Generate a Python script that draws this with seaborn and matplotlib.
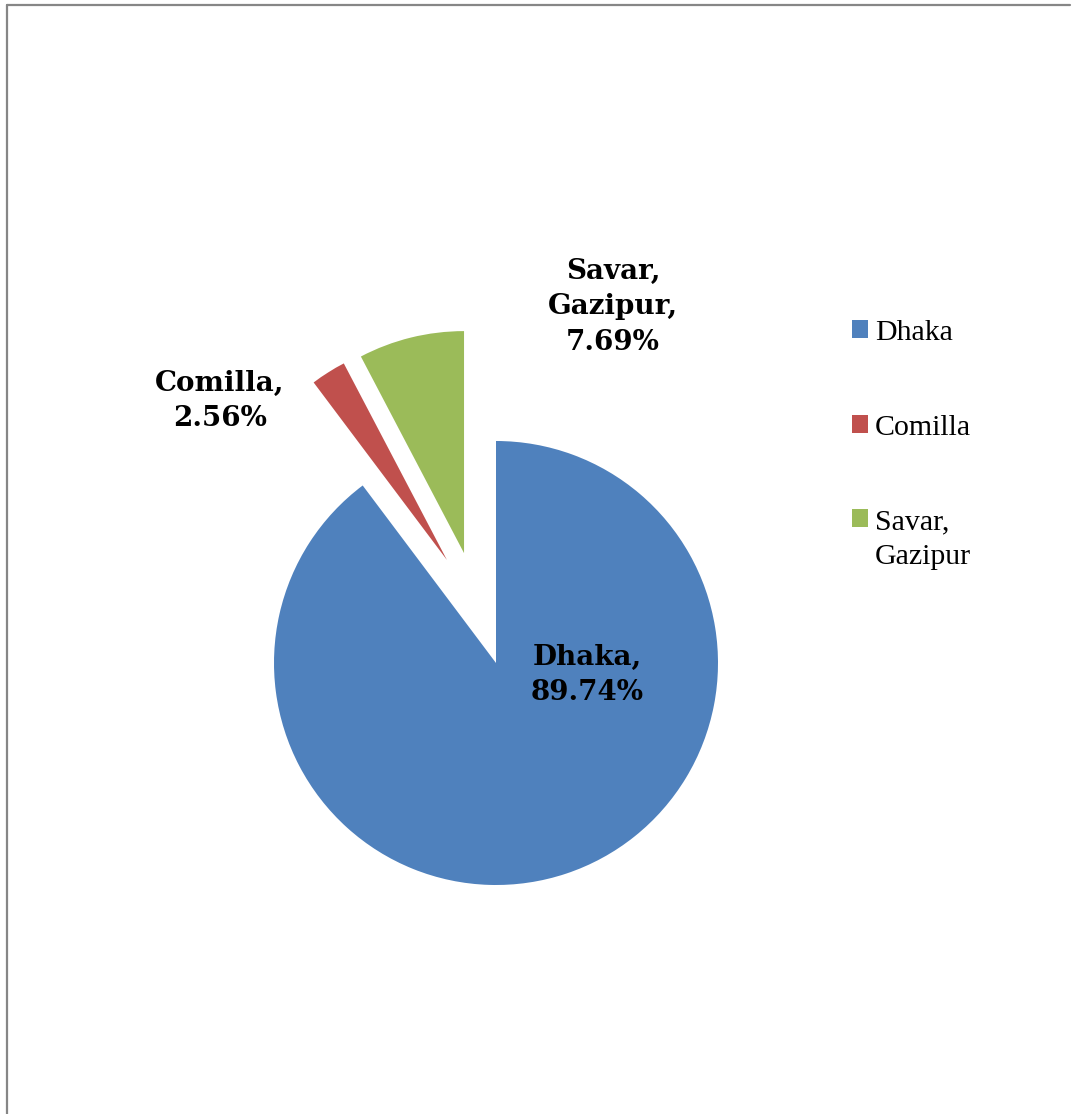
import matplotlib
matplotlib.use("Agg")
import matplotlib.pyplot as plt
from matplotlib.lines import Line2D
from matplotlib.patches import Rectangle
from matplotlib.legend_handler import HandlerPatch
import seaborn as sns

# Share of respondents by location
locations = ["Dhaka", "Comilla", "Savar, Gazipur"]
shares = [89.74, 2.56, 7.69]
legend_labels = ["Dhaka", "Comilla", "Savar,\nGazipur"]
slice_labels = ["Dhaka,\n89.74%", "Comilla,\n2.56%", "Savar,\nGazipur,\n7.69%"]

sns.set_theme(style="white")
plt.rcParams["font.family"] = ["DejaVu Serif"]
colors = sns.color_palette(["#4F81BD", "#C0504D", "#9BBB59"])

W, H = 1073, 1114
fig = plt.figure(figsize=(W / 100, H / 100), dpi=100)
fig.patch.set_facecolor("white")

# pie axes: radius 1 == 222 px, centred at (496, 663) px
R = 222.0
cx, cy = 496.0, H - 663.0
half = 340.0
ax = fig.add_axes([(cx - half) / W, (cy - half) / H, 2 * half / W, 2 * half / H])

wedges, _ = ax.pie(shares, colors=colors, startangle=90, counterclock=False,
                   wedgeprops=dict(linewidth=0))

# pulled-out slices
offsets = {1: (-0.221, 0.464), 2: (-0.144, 0.495)}
for i, off in offsets.items():
    wedges[i].set_center(off)

ax.set_xlim(-half / R, half / R)
ax.set_ylim(-half / R, half / R)
ax.set_aspect("equal")
ax.axis("off")

label_pos = [(0.41, -0.054), (-1.243, 1.18), (0.527, 1.604)]
for text, (x, y) in zip(slice_labels, label_pos):
    ax.text(x, y, text, ha="center", va="center", fontsize=20,
            fontweight="bold", family="DejaVu Serif", color="black",
            linespacing=1.4)

LEG_FS = 21.5
LEG_LS = 1.45


class FirstLineSquare(HandlerPatch):
    """Square legend key aligned with the first line of a wrapped label."""

    def __init__(self, n_lines=1, **kw):
        super().__init__(**kw)
        self.n_lines = n_lines

    def create_artists(self, legend, orig_handle, xdescent, ydescent,
                       width, height, fontsize, trans):
        shift = (self.n_lines - 1) * fontsize * LEG_LS / 2.0
        p = Rectangle((-xdescent, -ydescent + shift), width, height,
                      facecolor=orig_handle.get_facecolor(), edgecolor="none")
        p.set_transform(trans)
        return [p]


handler_map = {w: FirstLineSquare(n_lines=lab.count("\n") + 1)
               for w, lab in zip(wedges, legend_labels)}

leg = fig.legend(wedges, legend_labels, loc="upper left",
                 bbox_to_anchor=(852 / W, 1 - 320 / H),
                 frameon=False, prop={"family": "Liberation Serif", "size": LEG_FS},
                 handlelength=0.55, handleheight=0.55, handletextpad=0.22,
                 labelspacing=2.3, borderpad=0, borderaxespad=0,
                 handler_map=handler_map)
for t in leg.get_texts():
    t.set_linespacing(LEG_LS)
    t.set_color("black")

# chart area border (left and top edges)
border = "#868686"
fig.add_artist(Line2D([7 / W, 7 / W], [0, 1 - 5 / H], color=border, lw=1.6,
                      transform=fig.transFigure))
fig.add_artist(Line2D([7 / W, 1070 / W], [1 - 5 / H, 1 - 5 / H], color=border,
                      lw=1.6, transform=fig.transFigure))

fig.savefig("out.png", dpi=100, facecolor="white")
